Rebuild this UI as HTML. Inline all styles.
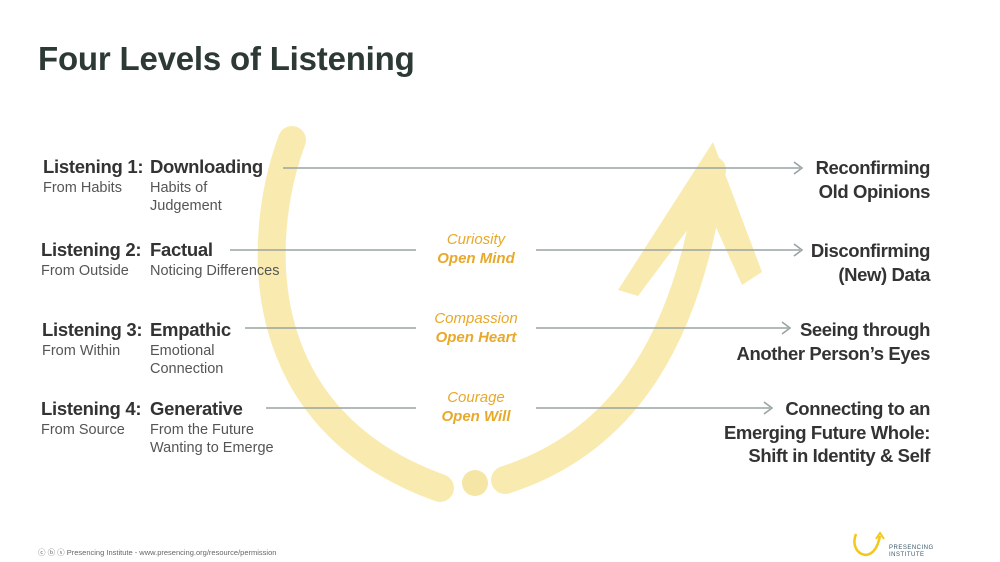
<!DOCTYPE html>
<html><head><meta charset="utf-8"><style>
body{margin:0;width:1000px;height:562px;background:#fff;font-family:"Liberation Sans",sans-serif;position:relative;overflow:hidden}
.t{position:absolute;white-space:nowrap}
.b{font-weight:bold;font-size:18.5px;color:#333;letter-spacing:-0.3px}
.s{font-size:14.5px;color:#555;line-height:18px}
.g{font-style:italic;font-size:15px;color:#E8A92B;text-align:center;line-height:19px;width:140px}
.r{text-align:right;font-weight:bold;font-size:18.5px;color:#333;line-height:23.5px;right:70px;letter-spacing:-0.4px}
</style></head><body>
<svg width="1000" height="562" style="position:absolute;left:0;top:0">
<g fill="none" stroke="#F9EBB0" stroke-linecap="round">
<path d="M292,140 C255,240 250,420 440,488" stroke-width="28"/>
<path d="M505,480 C630,440 690,330 712,170" stroke-width="28"/>
</g>
<polygon points="713,142 618,290 638,296 706,205 742,285 762,272" fill="#F9EBB0"/>
<circle cx="475" cy="483" r="13" fill="#F6E6A6"/>
<g stroke="#9aa3a3" stroke-width="1.6" fill="none">
<line x1="283" y1="168" x2="800" y2="168"/>
<line x1="230" y1="250" x2="416" y2="250"/><line x1="536" y1="250" x2="800" y2="250"/>
<line x1="245" y1="328" x2="416" y2="328"/><line x1="536" y1="328" x2="788" y2="328"/>
<line x1="266" y1="408" x2="416" y2="408"/><line x1="536" y1="408" x2="770" y2="408"/>
<polyline points="794,162 802,168 794,174"/>
<polyline points="794,244 802,250 794,256"/>
<polyline points="782,322 790,328 782,334"/>
<polyline points="764,402 772,408 764,414"/>
</g>
</svg>
<div class="t" style="left:38px;top:40px;font-size:33px;font-weight:bold;color:#2c3935;letter-spacing:-0.2px">Four Levels of Listening</div>

<div class="t b" style="left:43px;top:156px">Listening 1:</div>
<div class="t b" style="left:150px;top:156px">Downloading</div>
<div class="t s" style="left:43px;top:179px">From Habits</div>
<div class="t s" style="left:150px;top:179px">Habits of<br>Judgement</div>

<div class="t b" style="left:41px;top:239px">Listening 2:</div>
<div class="t b" style="left:150px;top:239px">Factual</div>
<div class="t s" style="left:41px;top:262px">From Outside</div>
<div class="t s" style="left:150px;top:262px">Noticing Differences</div>

<div class="t b" style="left:42px;top:319px">Listening 3:</div>
<div class="t b" style="left:150px;top:319px">Empathic</div>
<div class="t s" style="left:42px;top:342px">From Within</div>
<div class="t s" style="left:150px;top:342px">Emotional<br>Connection</div>

<div class="t b" style="left:41px;top:398px">Listening 4:</div>
<div class="t b" style="left:150px;top:398px">Generative</div>
<div class="t s" style="left:41px;top:421px">From Source</div>
<div class="t s" style="left:150px;top:421px">From the Future<br>Wanting to Emerge</div>

<div class="t g" style="left:406px;top:230px">Curiosity<br><b>Open Mind</b></div>
<div class="t g" style="left:406px;top:309px">Compassion<br><b>Open Heart</b></div>
<div class="t g" style="left:406px;top:388px">Courage<br><b>Open Will</b></div>

<div class="t r" style="top:156px">Reconfirming<br>Old Opinions</div>
<div class="t r" style="top:239px">Disconfirming<br>(New) Data</div>
<div class="t r" style="top:318px">Seeing through<br>Another Person’s Eyes</div>
<div class="t r" style="top:397px">Connecting to an<br>Emerging Future Whole:<br>Shift in Identity &amp; Self</div>

<div class="t" style="left:38px;top:547px;font-size:7.5px;color:#666">ⓒ ⓑ ⓢ Presencing Institute - www.presencing.org/resource/permission</div>
<svg width="40" height="30" style="position:absolute;left:850px;top:530px">
<path d="M6,4 C2,14 6,24 16,25 C24,24 28,16 30,6" fill="none" stroke="#F2C81E" stroke-width="2.5"/>
<polyline points="26,9 30,3 34,9" fill="none" stroke="#F2C81E" stroke-width="2"/>
</svg>
<div class="t" style="left:889px;top:545px;font-size:6px;line-height:7px;color:#3a5a6a;letter-spacing:0.5px">PRESENCING<br>INSTITUTE</div>
</body></html>
